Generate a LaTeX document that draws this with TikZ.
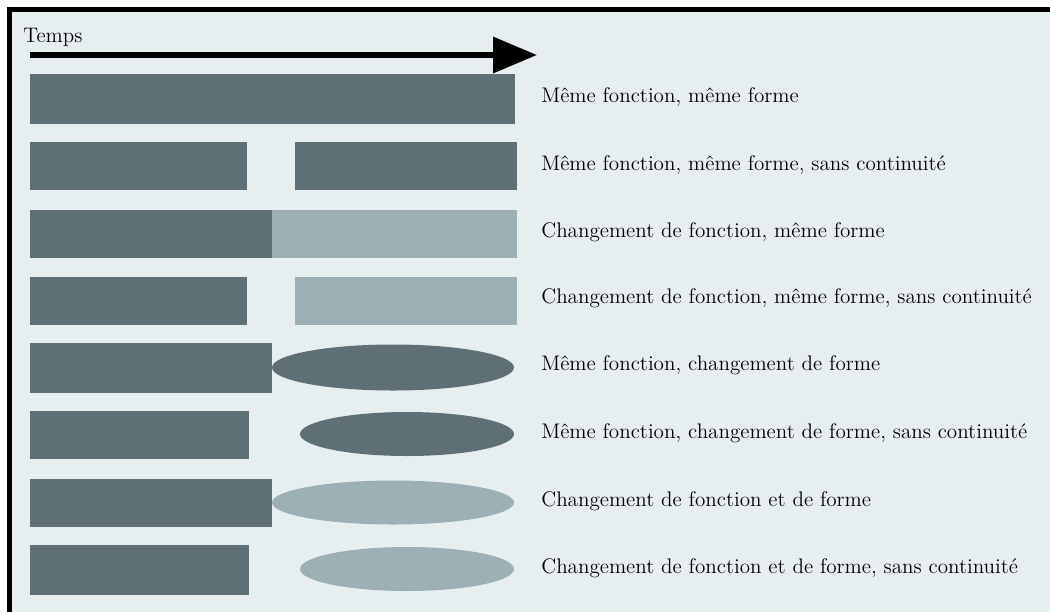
\documentclass[tikz,border=0pt]{standalone}
\usepackage{tikz}
\usetikzlibrary{arrows.meta}
\definecolor{fond}{RGB}{231,238,240}
\definecolor{ardoise}{RGB}{94,112,118}
\definecolor{ardoiseclair}{RGB}{157,176,181}

\begin{document}
\begin{tikzpicture}[x=0.02cm, y=-0.02cm,
  sombre/.style={fill=ardoise},
  clair/.style={fill=ardoiseclair},
  legende/.style={anchor=base west, inner sep=0pt, font=\fontsize{12}{14}\selectfont}]
\useasboundingbox (0,0) rectangle (1050,612);
\fill[white] (0,0) rectangle (1050,612);
\fill[fond] (12,12) rectangle (1050,612);
\fill[black] (7,7) rectangle (1050,12);
\fill[black] (7,7) rectangle (12,612);
% axe du temps
\node[legende] (temps) at (23,42) {Temps};
\coordinate (debut) at (30,55);
\coordinate (fin) at (537,55);
\draw[line width=0.12cm, -{Triangle[length=25pt, width=20pt]}] (debut) -- (fin);
% 1
\fill[sombre] (30,74) rectangle (515,124);
\node[legende] (l1) at (541,102) {Même fonction, même forme};
% 2
\fill[sombre] (30,142) rectangle (247,190);
\fill[sombre] (295,142) rectangle (517,190);
\node[legende] (l2) at (541,170) {Même fonction, même forme, sans continuité};
% 3
\fill[sombre] (30,210) rectangle (272,258);
\fill[clair] (272,210) rectangle (517,258);
\node[legende] (l3) at (541,237) {Changement de fonction, même forme};
% 4
\fill[sombre] (30,277) rectangle (247,325);
\fill[clair] (295,277) rectangle (517,325);
\node[legende] (l4) at (541,303) {Changement de fonction, même forme, sans continuité};
% 5
\fill[sombre] (30,343) rectangle (272,393);
\fill[sombre] (393,367.5) ellipse [x radius=121, y radius=23];
\node[legende] (l5) at (541,370) {Même fonction, changement de forme};
% 6
\fill[sombre] (30,411) rectangle (249,459);
\fill[sombre] (407,434) ellipse [x radius=107, y radius=22];
\node[legende] (l6) at (541,438) {Même fonction, changement de forme, sans continuité};
% 7
\fill[sombre] (30,479) rectangle (272,527);
\fill[clair] (393,502.5) ellipse [x radius=121, y radius=22];
\node[legende] (l7) at (541,506) {Changement de fonction et de forme};
% 8
\fill[sombre] (30,545) rectangle (249,595);
\fill[clair] (407,569) ellipse [x radius=107, y radius=22];
\node[legende] (l8) at (541,573) {Changement de fonction et de forme, sans continuité};
\end{tikzpicture}
\end{document}
